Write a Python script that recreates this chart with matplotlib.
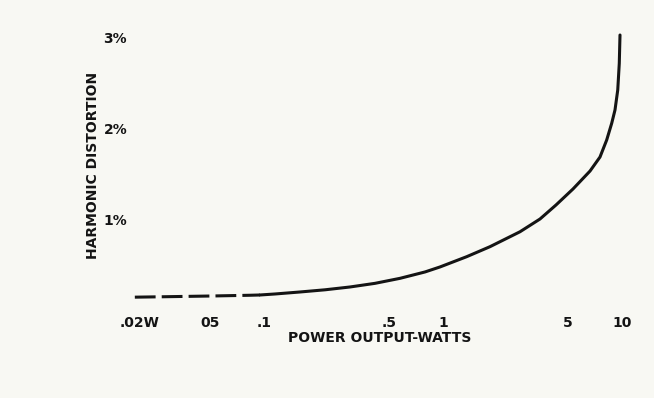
import matplotlib
matplotlib.use("Agg")
import matplotlib.pyplot as plt
from matplotlib.ticker import FixedLocator, FixedFormatter, NullLocator

# Harmonic distortion (%) versus power output (W)
power_w = [0.0189, 0.0261, 0.051, 0.0833, 0.0947, 0.1149, 0.1586, 0.2188,
           0.302, 0.4166, 0.5747, 0.793, 0.962, 1.357, 1.832, 2.696, 3.487,
           4.285, 5.334, 6.64, 7.55, 8.23, 8.78, 9.16, 9.49, 9.68, 9.77]
distortion_pct = [0.141, 0.145, 0.154, 0.162, 0.165, 0.176, 0.198, 0.222,
                  0.253, 0.293, 0.348, 0.418, 0.473, 0.586, 0.696, 0.860, 1.000,
                  1.154, 1.330, 1.527, 1.681, 1.868, 2.052, 2.198, 2.418, 2.711,
                  3.022]

# below this power the curve is drawn dashed
dash_limit_w = 0.0947

x_ticks = [0.02, 0.05, 0.1, 0.5, 1, 5, 10]
x_tick_labels = [".02W", "05", ".1", ".5", "1", "5", "10"]
y_ticks = [1, 2, 3]
y_tick_labels = ["1%", "2%", "3%"]

plt.rcParams['font.family'] = ['DejaVu Sans']

W, H = 654, 398
bg = "#f8f8f3"
fig = plt.figure(figsize=(W / 100, H / 100), dpi=100, facecolor=bg)

# axes placed in pixel units: left 130, right 640, bottom 310, top 20
left, right, bottom, top = 130, 640, 310, 20
ax = fig.add_axes([left / W, (H - bottom) / H, (right - left) / W, (bottom - top) / H])
ax.set_facecolor(bg)
ax.set_xscale("log")
ax.set_xlim(0.01776, 12.64)
ax.set_ylim(0, 3.187)

n_dash = sum(1 for p in power_w if p <= dash_limit_w)
dash_x, dash_y = power_w[:n_dash], distortion_pct[:n_dash]
solid_x, solid_y = power_w[n_dash - 1:], distortion_pct[n_dash - 1:]

ink = "#141414"
ax.plot(dash_x, dash_y, color=ink, lw=2.2, dashes=(6.8, 2.0),
        dash_capstyle="butt")
ax.plot(solid_x, solid_y, color=ink, lw=2.2, solid_capstyle="round",
        solid_joinstyle="round")

for s in ax.spines.values():
    s.set_visible(False)

ax.xaxis.set_major_locator(FixedLocator(x_ticks))
ax.xaxis.set_major_formatter(FixedFormatter(x_tick_labels))
ax.xaxis.set_minor_locator(NullLocator())
ax.yaxis.set_major_locator(FixedLocator(y_ticks))
ax.yaxis.set_major_formatter(FixedFormatter(y_tick_labels))
ax.tick_params(axis="both", length=0, labelsize=10, labelcolor=ink)
ax.tick_params(axis="x", pad=4)
ax.tick_params(axis="y", pad=2)
for lbl in ax.get_xticklabels() + ax.get_yticklabels():
    lbl.set_fontweight("bold")

ax.set_xlabel("POWER OUTPUT-WATTS", fontsize=10, color=ink, fontweight="bold")
ax.xaxis.set_label_coords(0.49, -0.097)
ax.xaxis.label.set_va("center")
ax.set_ylabel("HARMONIC DISTORTION", fontsize=10, color=ink, fontweight="bold")
ax.yaxis.set_label_coords(-0.0725, 0.497)
ax.yaxis.label.set_va("center")

fig.savefig("out.png", dpi=100, facecolor=bg)
